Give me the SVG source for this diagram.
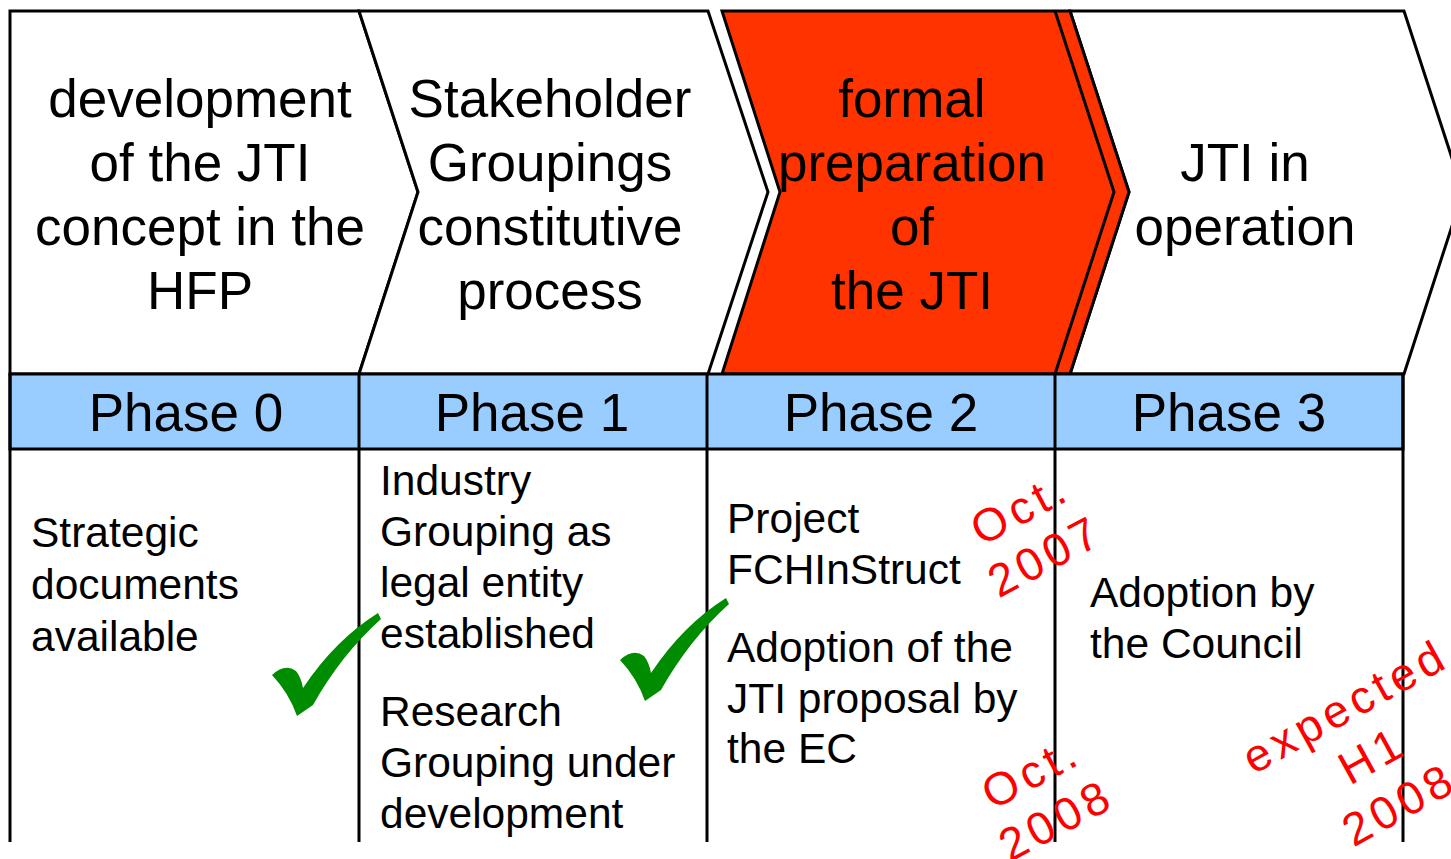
<svg xmlns="http://www.w3.org/2000/svg" width="1451" height="859" viewBox="0 0 1451 859">
<style>
.chev{fill:#fff;stroke:#000;stroke-width:3;stroke-linejoin:miter}
.red{fill:#FF3300;stroke:#000;stroke-width:3}
.ln{stroke:#000;stroke-width:3;fill:none}
.t{font-family:"Liberation Sans",Arial,sans-serif;fill:#000}
.big{font-size:53px;text-anchor:middle}
.body{font-size:42.5px}
.note{font-family:"Liberation Sans",Arial,sans-serif;font-size:46px;fill:#FF0000;text-anchor:middle;letter-spacing:5px}
.chk{fill:#008C00}
</style>
<defs>
<path id="check" d="M272,675 Q285,663 296,671 Q301,677 303,688 Q335,640 378,613 L381,619 Q341,655 313,705 L297,716 Q289,693 272,675 Z"/>
</defs>
<rect width="1451" height="859" fill="#fff"/>
<g id="phase0">
<polygon class="chev" points="10,11 359,11 418,192 359,374 10,374"/>
<text class="t big"><tspan x="200" y="117">development</tspan><tspan x="200" y="181">of the JTI</tspan><tspan x="200" y="245">concept in the</tspan><tspan x="200" y="309">HFP</tspan></text>
</g>
<g id="phase1">
<polygon class="chev" points="359,11 708,11 768,192 708,374 359,374 418,192"/>
<text class="t big"><tspan x="550" y="117">Stakeholder</tspan><tspan x="550" y="181">Groupings</tspan><tspan x="550" y="245">constitutive</tspan><tspan x="550" y="309">process</tspan></text>
</g>
<g id="phase3">
<polygon class="chev" points="1070,11 1404,11 1463,192 1404,374 1070,374 1129,192"/>
<text class="t big"><tspan x="1245" y="181">JTI in</tspan><tspan x="1245" y="245">operation</tspan></text>
</g>
<g id="phase2">
<polygon class="red" points="722,11 1070,11 1129,192 1070,374 722,374 780,192"/>
<polyline class="ln" points="1055,11 1114,192 1055,374"/>
<text class="t big"><tspan x="912" y="117">formal</tspan><tspan x="912" y="181">preparation</tspan><tspan x="912" y="245">of</tspan><tspan x="912" y="309">the JTI</tspan></text>
</g>
<g id="header">
<rect x="10" y="374" width="1393" height="75" fill="#99CCFF" stroke="#000" stroke-width="3"/>
<text class="t big" y="431"><tspan x="186">Phase 0</tspan><tspan x="532">Phase 1</tspan><tspan x="881">Phase 2</tspan><tspan x="1229">Phase 3</tspan></text>
</g>
<g id="grid">
<line class="ln" x1="10" y1="374" x2="10" y2="842"/>
<line class="ln" x1="359" y1="374" x2="359" y2="842"/>
<line class="ln" x1="707" y1="374" x2="707" y2="842"/>
<line class="ln" x1="1055" y1="374" x2="1055" y2="842"/>
<line class="ln" x1="1403" y1="374" x2="1403" y2="842"/>
</g>
<g id="body0">
<text class="t body"><tspan x="31" y="547">Strategic</tspan><tspan x="31" y="599">documents</tspan><tspan x="31" y="651">available</tspan></text>
</g>
<g id="body1">
<text class="t body"><tspan x="380" y="495">Industry</tspan><tspan x="380" y="546">Grouping as</tspan><tspan x="380" y="597">legal entity</tspan><tspan x="380" y="648">established</tspan><tspan x="380" y="726">Research</tspan><tspan x="380" y="777">Grouping under</tspan><tspan x="380" y="828">development</tspan></text>
</g>
<g id="body2">
<text class="t body"><tspan x="727" y="533">Project</tspan><tspan x="727" y="584">FCHInStruct</tspan><tspan x="727" y="662">Adoption of the</tspan><tspan x="727" y="713">JTI proposal by</tspan><tspan x="727" y="763">the EC</tspan></text>
</g>
<g id="body3">
<text class="t body"><tspan x="1090" y="607">Adoption by</tspan><tspan x="1090" y="658">the Council</tspan></text>
</g>
<g id="checks">
<use href="#check" class="chk"/>
<use href="#check" class="chk" transform="translate(348,-15)"/>
</g>
<g id="notes">
<text class="note" transform="translate(1020,508) rotate(-28)"><tspan x="0" y="16">Oct.</tspan><tspan x="0" y="70">2007</tspan></text>
<text class="note" transform="translate(1031,772) rotate(-28)"><tspan x="0" y="16">Oct.</tspan><tspan x="0" y="70">2008</tspan></text>
<text class="note" transform="translate(1345,706) rotate(-29)"><tspan x="0" y="16">expected</tspan><tspan x="0" y="72">H1</tspan><tspan x="0" y="128">2008</tspan></text>
</g>
</svg>
